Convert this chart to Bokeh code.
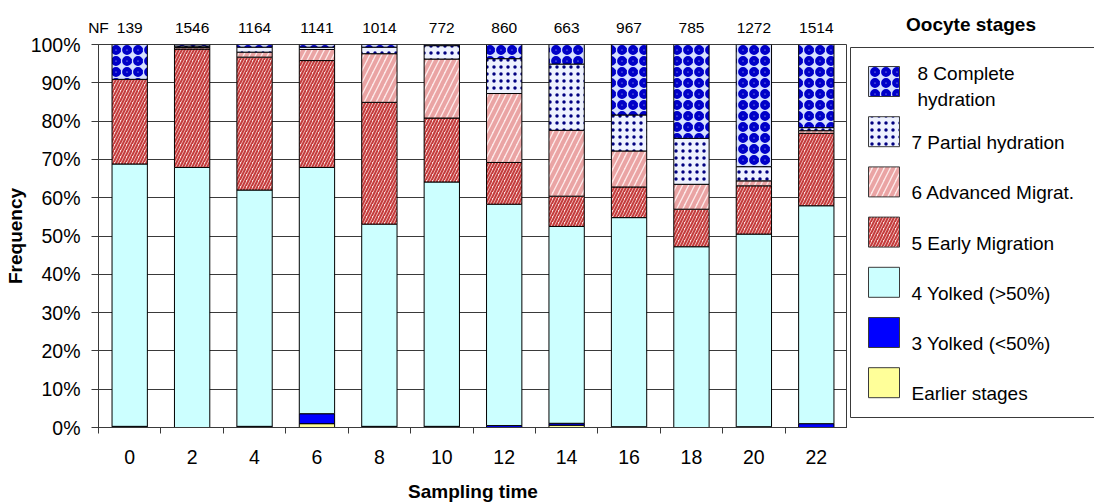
from bokeh.plotting import figure
from bokeh.models import (ColumnDataSource, Range1d, FixedTicker, LinearAxis,
                          CustomJSTickFormatter, PrintfTickFormatter)
from bokeh.layouts import row
from bokeh.embed import file_html
from bokeh.resources import INLINE
from bokeh.core.properties import value

# Sampling times (h) and number of oocytes counted per sample
times = [0, 2, 4, 6, 8, 10, 12, 14, 16, 18, 20, 22]
nf = [139, 1546, 1164, 1141, 1014, 772, 860, 663, 967, 785, 1272, 1514]

# Relative frequency (%) of each oocyte stage per sampling time
earlier = [0, 0, 0, 1.0, 0, 0, 0, 0.6, 0, 0, 0, 0]
yolked_lt50 = [0.3, 0, 0.3, 2.6, 0.3, 0.3, 0.5, 0.5, 0.2, 0, 0.2, 1.0]
yolked_gt50 = [68.5, 67.9, 61.7, 64.3, 52.8, 63.8, 57.8, 51.4, 54.6, 47.2, 50.3, 56.9]
early_migr = [22.1, 30.9, 34.7, 27.9, 31.8, 16.7, 10.9, 7.9, 8.0, 9.8, 12.6, 18.9]
adv_migr = [0, 0.4, 1.3, 2.9, 12.7, 15.4, 18.0, 17.2, 9.4, 6.5, 1.3, 0.7]
partial_hyd = [0, 0.4, 1.3, 0.6, 1.7, 3.5, 9.1, 17.3, 9.4, 12.0, 3.7, 0.8]
complete_hyd = [9.1, 0.4, 0.7, 0.7, 0.7, 0.3, 3.7, 5.1, 18.4, 24.5, 31.9, 21.7]

stage_labels = ["Earlier stages", "3 Yolked (<50%)", "4 Yolked (>50%)",
                "5 Early Migration", "6 Advanced Migrat.", "7 Partial hydration",
                "8 Complete hydration"]

FONT = "Liberation Sans"
LINE = "#3a3a3a"

stackers = ["earlier", "s3", "s4", "s5", "s6", "s7", "s8"]
source = ColumnDataSource(dict(
    x=[i + 0.5 for i in range(len(times))],
    earlier=earlier, s3=yolked_lt50, s4=yolked_gt50, s5=early_migr,
    s6=adv_migr, s7=partial_hyd, s8=complete_hyd,
))

# per-stage fill / hatch styling (bottom to top)
fills = ["#ffff99", "#0000ff", "#ccffff", "#fbe2e2", "#fdeaea", "#eef2ff", "#d6e0ff"]
hatches = ["blank", "blank", "blank", "/", "/", "dot", "ring"]
hatch_colors = ["black", "black", "black", "#c43c3c", "#eaa4a4", "#000080", "#0000c8"]
hatch_scales = [12, 12, 12, 6, 12, 7, 11]
hatch_weights = [1, 1, 1, 2.1, 4, 3, 4.3]

p = figure(frame_width=749, frame_height=383,
           min_border_left=98, min_border_right=0, min_border_top=44, min_border_bottom=76,
           x_range=Range1d(0, 12), y_range=Range1d(0, 100),
           output_backend="svg", toolbar_location=None,
           background_fill_color="white", border_fill_color="white")

p.vbar_stack(stackers, x="x", width=0.566, source=source,
             fill_color=fills, hatch_pattern=hatches, hatch_color=hatch_colors,
             hatch_scale=hatch_scales, hatch_weight=hatch_weights,
             line_color="black", line_width=1)

p.outline_line_color = LINE
p.outline_line_width = 1
p.xgrid.visible = False
p.ygrid.ticker = FixedTicker(ticks=list(range(0, 101, 10)))
p.ygrid.grid_line_color = LINE
p.ygrid.grid_line_width = 1

# y axis
ya = p.yaxis[0]
ya.ticker = FixedTicker(ticks=list(range(0, 101, 10)))
ya.formatter = PrintfTickFormatter(format="%d%%")
ya.axis_line_color = LINE
ya.major_tick_line_color = LINE
ya.major_tick_out = 7
ya.major_tick_in = 0
ya.minor_tick_line_color = None
ya.major_label_text_font = FONT
ya.major_label_text_font_size = "19.5px"
ya.major_label_text_color = "black"
ya.major_label_standoff = 11
ya.axis_label = "Frequency"
ya.axis_label_text_font = FONT
ya.axis_label_text_font_style = "bold"
ya.axis_label_text_font_size = "19px"
ya.axis_label_text_color = "black"
ya.axis_label_standoff = 2

# x axis: labels at bar centres, ticks between bars
xa = p.xaxis[0]
xa.ticker = FixedTicker(ticks=[i + 0.5 for i in range(len(times))],
                        minor_ticks=list(range(len(times) + 1)))
xa.formatter = CustomJSTickFormatter(args=dict(labels=[str(t) for t in times]),
                                     code="return labels[Math.round(tick - 0.5)]")
xa.axis_line_color = LINE
xa.major_tick_line_color = None
xa.major_tick_out = 0
xa.major_tick_in = 0
xa.minor_tick_line_color = LINE
xa.minor_tick_out = 6
xa.minor_tick_in = 0
xa.major_label_text_font = FONT
xa.major_label_text_font_size = "19.5px"
xa.major_label_text_color = "black"
xa.major_label_standoff = 16
xa.axis_label = "Sampling time"
xa.axis_label_text_font = FONT
xa.axis_label_text_font_style = "bold"
xa.axis_label_text_font_size = "19px"
xa.axis_label_text_color = "black"
xa.axis_label_standoff = 14

# sample sizes (NF) above each bar
nf_ticks = [0] + [i + 0.5 for i in range(len(nf))]
nf_text = ["NF"] + [str(n) for n in nf]
top = LinearAxis(ticker=FixedTicker(ticks=nf_ticks),
                 formatter=CustomJSTickFormatter(
                     args=dict(labels=nf_text),
                     code="return tick == 0 ? labels[0] : labels[Math.round(tick + 0.5)]"))
top.axis_line_color = None
top.major_tick_line_color = None
top.minor_tick_line_color = None
top.major_tick_out = 0
top.major_tick_in = 0
top.major_label_text_font = FONT
top.major_label_text_font_size = "15.5px"
top.major_label_text_color = "black"
top.major_label_standoff = 9
p.add_layout(top, "above")

# legend panel (coordinates in page pixels)
lg = figure(width=247, frame_height=383,
            min_border_left=0, min_border_right=0, min_border_top=44, min_border_bottom=76,
            x_range=Range1d(847, 1094), y_range=Range1d(427, 44),
            output_backend="svg", toolbar_location=None,
            x_axis_type=None, y_axis_type=None, outline_line_color=None,
            background_fill_color="white", border_fill_color="white",
            title="Oocyte stages")
lg.title.align = "center"
lg.title.text_font = FONT
lg.title.text_font_style = "bold"
lg.title.text_font_size = "19px"
lg.title.text_color = "black"
lg.title.standoff = 20
lg.xgrid.visible = False
lg.ygrid.visible = False

lg.quad(left=850, right=1110, top=47, bottom=417, fill_color="white",
        line_color=LINE, line_width=1)

n = len(stage_labels)
order = list(range(n))[::-1]  # top entry is the last stage
sw_top = [66 + 50.2 * k for k in range(n)]
lg.quad(left=868, right=899, top=sw_top, bottom=[t + 30 for t in sw_top],
        fill_color=[fills[i] for i in order], hatch_pattern=[hatches[i] for i in order],
        hatch_color=[hatch_colors[i] for i in order],
        hatch_scale=[hatch_scales[i] for i in order],
        hatch_weight=[hatch_weights[i] for i in order],
        line_color=LINE, line_width=1)

first = stage_labels[order[0]].split(" ", 2)
lg.text(x=[917, 917], y=[sw_top[0] + 7, sw_top[0] + 33],
        text=[first[0] + " " + first[1], first[2]], text_font=value(FONT),
        text_font_size="19px", text_align="left", text_baseline="middle",
        text_color="black")
lg.text(x=[911] * (n - 1), y=[t + 26 for t in sw_top[1:]],
        text=[stage_labels[i] for i in order[1:]], text_font=value(FONT),
        text_font_size="19px", text_align="left", text_baseline="middle",
        text_color="black")

layout = row(p, lg)
open("out.html", "w").write(file_html(layout, INLINE))
